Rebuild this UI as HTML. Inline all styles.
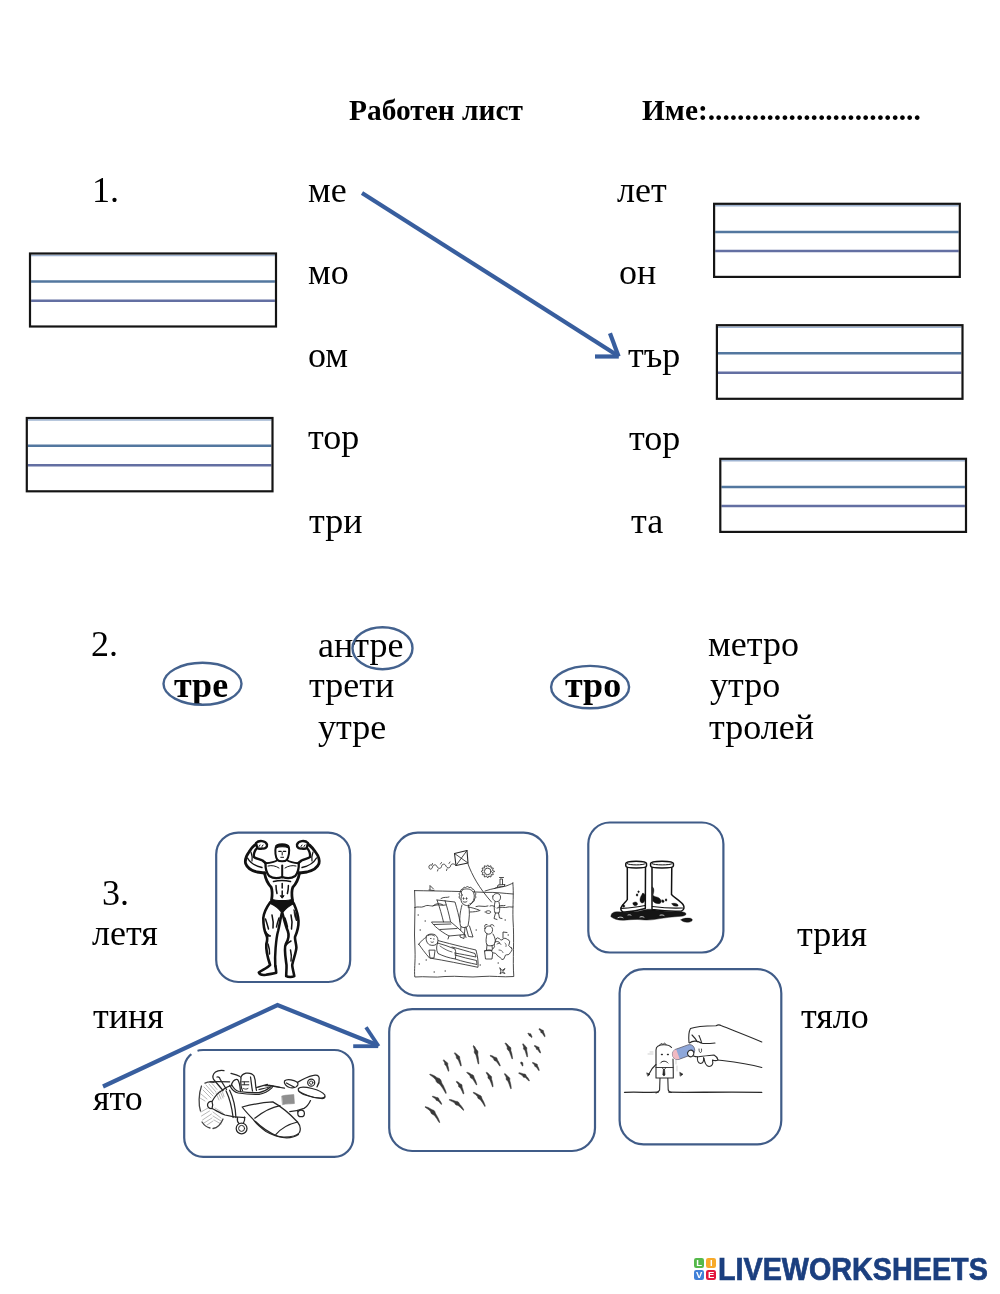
<!DOCTYPE html>
<html><head><meta charset="utf-8">
<style>
html,body{margin:0;padding:0;background:#fff;}
body{width:1000px;height:1294px;position:relative;overflow:hidden;font-family:"Liberation Serif",serif;color:#000;}
.t{position:absolute;font-size:36px;line-height:36px;white-space:pre;will-change:transform;}
.b{font-weight:bold;}
.h{position:absolute;font-size:29.4px;line-height:29.4px;font-weight:bold;white-space:pre;will-change:transform;}
svg{position:absolute;left:0;top:0;}
.lq{position:absolute;width:10.2px;height:10.2px;border-radius:2.2px;color:#fff;font-family:"Liberation Sans",sans-serif;font-weight:bold;font-size:9.5px;line-height:10.4px;text-align:center;}
</style></head>
<body>
<!-- header -->
<div class="h" style="left:349.2px;top:95.5px">Работен лист</div>
<div class="h" style="left:641.5px;top:95.5px">Име:.............................</div>

<!-- section 1 -->
<div class="t" style="left:92.3px;top:171.7px">1.</div>
<div class="t" style="left:307.8px;top:172px">ме</div>
<div class="t" style="left:307.8px;top:254.1px">мо</div>
<div class="t" style="left:308.3px;top:337px">ом</div>
<div class="t" style="left:308.4px;top:418.9px">тор</div>
<div class="t" style="left:308.6px;top:502.8px">три</div>
<div class="t" style="left:616.8px;top:171.7px">лет</div>
<div class="t" style="left:618.8px;top:253.6px">он</div>
<div class="t" style="left:627.5px;top:337.4px">тър</div>
<div class="t" style="left:628.6px;top:419.7px">тор</div>
<div class="t" style="left:630.6px;top:502.6px">та</div>


<!-- section 2 -->
<div class="t" style="left:91px;top:626.2px">2.</div>
<div class="t" style="left:318.2px;top:626.6px">антре</div>
<div class="t" style="left:309.1px;top:666.8px">трети</div>
<div class="t" style="left:318.2px;top:709px">утре</div>
<div class="t b" style="left:174.1px;top:666.5px">тре</div>
<div class="t b" style="left:565px;top:667px">тро</div>
<div class="t" style="left:708.2px;top:626.2px">метро</div>
<div class="t" style="left:710.1px;top:667.4px">утро</div>
<div class="t" style="left:708.7px;top:708.9px">тролей</div>

<!-- section 3 -->
<div class="t" style="left:101.9px;top:874.9px">3.</div>
<div class="t" style="left:92.2px;top:915.3px">летя</div>
<div class="t" style="left:92.7px;top:998.1px">тиня</div>
<div class="t" style="left:93px;top:1080.1px">ято</div>
<div class="t" style="left:797px;top:916px">трия</div>
<div class="t" style="left:801.2px;top:997.8px">тяло</div>

<svg width="1000" height="1294" viewBox="0 0 1000 1294">
  <g id="boxes">
    <line x1="31.1" y1="255.5" x2="274.9" y2="255.5" stroke="#9fb4d2" stroke-width="1.6"/>
    <line x1="31.1" y1="281.6" x2="274.9" y2="281.6" stroke="#53779f" stroke-width="2.5"/>
    <line x1="31.1" y1="300.8" x2="274.9" y2="300.8" stroke="#636fa2" stroke-width="2.5"/>
    <rect x="30" y="253.5" width="246.0" height="73.0" fill="none" stroke="#141414" stroke-width="2.2"/>
    <line x1="27.9" y1="420.0" x2="271.4" y2="420.0" stroke="#9fb4d2" stroke-width="1.6"/>
    <line x1="27.9" y1="445.7" x2="271.4" y2="445.7" stroke="#53779f" stroke-width="2.5"/>
    <line x1="27.9" y1="465.2" x2="271.4" y2="465.2" stroke="#636fa2" stroke-width="2.5"/>
    <rect x="26.8" y="418" width="245.7" height="73.3" fill="none" stroke="#141414" stroke-width="2.2"/>
    <line x1="715.2" y1="205.8" x2="958.7" y2="205.8" stroke="#9fb4d2" stroke-width="1.6"/>
    <line x1="715.2" y1="231.9" x2="958.7" y2="231.9" stroke="#53779f" stroke-width="2.5"/>
    <line x1="715.2" y1="251" x2="958.7" y2="251" stroke="#636fa2" stroke-width="2.5"/>
    <rect x="714.1" y="203.8" width="245.7" height="73.1" fill="none" stroke="#141414" stroke-width="2.2"/>
    <line x1="718.0" y1="327.2" x2="961.4" y2="327.2" stroke="#9fb4d2" stroke-width="1.6"/>
    <line x1="718.0" y1="353.2" x2="961.4" y2="353.2" stroke="#53779f" stroke-width="2.5"/>
    <line x1="718.0" y1="372.7" x2="961.4" y2="372.7" stroke="#636fa2" stroke-width="2.5"/>
    <rect x="716.9" y="325.2" width="245.6" height="73.6" fill="none" stroke="#141414" stroke-width="2.2"/>
    <line x1="721.4" y1="460.8" x2="964.9" y2="460.8" stroke="#9fb4d2" stroke-width="1.6"/>
    <line x1="721.4" y1="486.9" x2="964.9" y2="486.9" stroke="#53779f" stroke-width="2.5"/>
    <line x1="721.4" y1="506" x2="964.9" y2="506" stroke="#636fa2" stroke-width="2.5"/>
    <rect x="720.3" y="458.8" width="245.7" height="73.1" fill="none" stroke="#141414" stroke-width="2.2"/>
  </g>
  <g fill="none" stroke="#385e9e" stroke-width="4.2" stroke-linecap="butt" stroke-linejoin="miter">
    <line x1="362" y1="193" x2="616" y2="354.5"/>
    <line x1="610" y1="333.3" x2="618.6" y2="356.6"/>
    <line x1="595" y1="356.5" x2="618.8" y2="356.5"/>
    <polyline points="103,1086.5 277.5,1005 377,1045"/>
    <line x1="366" y1="1027.3" x2="378.6" y2="1046.3" stroke-width="3.8"/>
    <line x1="353.2" y1="1046.2" x2="378.2" y2="1046.2" stroke-width="3.8"/>
  </g>
  <g fill="none" stroke="#44628e" stroke-width="2.4">
    <ellipse cx="202.5" cy="683.8" rx="39" ry="21"/>
    <ellipse cx="382.5" cy="648.2" rx="30" ry="21"/>
    <ellipse cx="590.1" cy="687.1" rx="39" ry="21.2"/>
  </g>
  <g fill="none" stroke="#405c88" stroke-width="2.2">
    <rect x="216.2" y="832.6" width="134" height="149.4" rx="22"/>
    <rect x="394.2" y="832.6" width="152.9" height="163" rx="23.5"/>
    <rect x="588.3" y="822.5" width="135.1" height="130" rx="21.5"/>
    <rect x="389.2" y="1009.1" width="205.8" height="141.9" rx="23"/>
    <rect x="184.2" y="1050" width="169.1" height="106.8" rx="19"/>
    <rect x="619.6" y="969.2" width="161.7" height="175.1" rx="24"/>
  </g>
  <path d="M191.3,1054.2 A19,19 0 0 1 197.5,1050.8" fill="none" stroke="#fff" stroke-width="4.2"/>
<g id="muscle" fill="none" stroke="#111" stroke-width="2" stroke-linejoin="round" stroke-linecap="round">
  <!-- left arm -->
  <path d="M261.5,842 C257,842.5 252,847 249,852 C246,856 244.8,860 245.6,863.5 C247,867.5 251,870.5 257,872 L264.5,873" stroke-width="2.8"/>
  <path d="M257.5,847.5 C255,850 253.6,853 253.8,856.8 C256,858.8 259.5,859 262.5,860.5 L265.5,863" stroke-width="2.4"/>
  <path d="M256,843 C259,840 265.5,840.5 267,844.5 C267.5,847.5 265,849 262,848.5 C260,849 258,848.6 257.2,847.8 Z" fill="#fff" stroke-width="2.4"/>
  <path d="M259,846.5 l1,-1.5 M262,846.5 l1,-1.5" stroke-width="1"/>
  <path d="M247.5,858 C250,862.5 255,866 262,867.5" stroke-width="1.4"/>
  <path d="M251,852 C252,855 252.5,858 252,861" stroke-width="1.2"/>
  <!-- right arm -->
  <path d="M302.5,842 C307,842.5 312,847 315.5,852 C318.5,856 319.8,860 319,863.5 C317.5,867.5 313,870.5 307,872 L299.5,873" stroke-width="2.8"/>
  <path d="M306.5,847.5 C309,850 310.4,853 310.2,856.8 C308,858.8 304.5,859 301.5,860.5 L298.5,863" stroke-width="2.4"/>
  <path d="M308,843 C305,840 298.5,840.5 297,844.5 C296.5,847.5 299,849 302,848.5 C304,849 306,848.6 306.8,847.8 Z" fill="#fff" stroke-width="2.4"/>
  <path d="M301,846.5 l1,-1.5 M304,846.5 l1,-1.5" stroke-width="1"/>
  <path d="M316.5,858 C314,862.5 309,866 302,867.5" stroke-width="1.4"/>
  <path d="M313,852 C312,855 311.5,858 312,861" stroke-width="1.2"/>
  <!-- head -->
  <path d="M275.8,847 C276.3,843.3 287.8,843.3 288.8,847 C289.8,851 288.8,857 286.8,859.8 C285.2,861.8 279,861.8 277.4,859.8 C275.4,857 274.8,851 275.8,847 Z" fill="#fff" stroke-width="2"/>
  <path d="M275.8,848 C276.3,843.5 288,843.5 288.8,848 C286,846.3 278.5,846.3 275.8,848 Z" fill="#111" stroke-width="1.2"/>
  <path d="M278.8,851.3 h2.4 M283.3,851.3 h2.4" stroke-width="1.3"/>
  <path d="M282.2,852.5 v2.5 M280.8,857.3 h2.8" stroke-width="1"/>
  <!-- neck / traps -->
  <path d="M277.8,860 C274,862.6 270,863 265.5,863.2 M286.6,860 C290.5,862.6 294.5,863 298.5,863.2" stroke-width="2"/>
  <!-- chest -->
  <path d="M265.5,863 C265.3,868 266,872.5 269.2,876 C273,878.6 278,878.6 282.2,877 C286.5,878.6 291.5,878.6 295.2,876 C298.4,872.5 299,868 298.8,863" stroke-width="2.3"/>
  <path d="M282.2,865.5 L282.2,877.5" stroke-width="2"/>
  <path d="M268,866 C272,865 276,866 279,868 M296,866 C292,865 288,866 285,868" stroke-width="1"/>
  <!-- lats / waist -->
  <path d="M264.5,873 C265.5,878.5 267.5,883.5 271.2,887.2 C272.7,891 272.2,896 271.6,900" stroke-width="2.8"/>
  <path d="M299.5,873 C298.5,878.5 296.5,883.5 292.8,887.2 C291.3,891 291.8,896 292.4,900" stroke-width="2.8"/>
  <!-- abs -->
  <path d="M273.5,881.5 C278,880.5 286,880.5 290.5,881.5" stroke-width="1.6"/>
  <path d="M282.2,883.5 v4.5 M282.2,891 v4 M276,885.5 c0,3 0.5,6 1,8 M288.4,885.5 c0,3 -0.5,6 -1,8" stroke-width="1.5"/>
  <path d="M280.5,896 l1.7,2.2 l1.7,-2.2 Z" fill="#111" stroke-width="1"/>
  <!-- trunks -->
  <path d="M271.3,899.3 C276,901 288.4,901 292.8,899.3 L294,903.5 C289.5,905.5 285.5,908.5 282.2,913 C279,908.5 275,905.5 270.4,903.5 Z" fill="#111" stroke-width="1.2"/>
  <!-- left leg -->
  <path d="M270.4,902 C266.8,907 263.8,912 263.3,918 C263.3,924 263.8,930 266.3,935 C267.8,938 267.3,941 266.3,944 C265.8,950 267.8,958 270.1,965 C267.8,968 262,970 258.8,972.5 C259.8,974.8 263,975.3 266,974.8 C270,973.8 274,973.8 276.2,972.8 C276.2,970 275.7,968 275.4,966" stroke-width="2.6"/>
  <path d="M281.8,913 C280.6,918 279.6,925 278.1,931 C276.6,936 276.1,942 275.6,948 C275.1,954 274.9,960 275.3,966" stroke-width="2.5"/>
  <path d="M265.5,919 c1.2,3.5 2.2,7 3,10 M272,915 c1,4 1.5,9 1,13 M268,944 c1,3 2,6 1.5,10 M279,918 c-1,3 -2,6 -2.5,9" stroke-width="1.5"/>
  <path d="M265,930 C266.5,933 268.5,935 271,936 C269,937 267,936.5 265.5,934 Z" fill="#111" stroke-width="0.8"/>
  <!-- right leg -->
  <path d="M282.4,913 C283.8,918 285.3,925 287.8,931 C289.3,935 288.3,940 285.8,944 C283.8,948 285.3,956 286.5,965 C286.7,969 286.2,972 286.2,976.2 C288.2,977.3 292.2,977.3 294.3,976.2 C293.7,972 292.2,968 292.2,965 C293.7,958 296.2,952 296.4,947.5 C296.2,943 294.7,940 295,937 C297.2,932 298.7,927 298.5,921 C298.2,915 296.2,909 293.8,903.5" stroke-width="2.6"/>
  <path d="M291,915 c1,4 1.5,9 0.5,14 M286,945 c1.5,-2 3,-3 5,-4 M290.5,950 c1,4 1,8 0.5,11 M285,918 c1,3 2,6 2.5,9" stroke-width="1.5"/>
  <path d="M294,910 C296,913 297,917 296.5,921 C295,918 294,914 294,910 Z" fill="#111" stroke-width="0.8"/>
</g>

<g id="boots" stroke="#111" stroke-linejoin="round" stroke-linecap="round">
  <!-- puddle -->
  <path d="M611,915.5 C611.5,912.5 614.5,911.5 618,911.8 C624,912.3 632,912.5 640,911 C645,909.5 649,908.8 652,909.5 C660,911 670,911.8 678,911.8 C684,911.5 686.5,912.8 686,914.5 C685,915.8 682,916.5 678,916.5 C672,917 666,917.5 660,918.6 C654,919.8 648,920.5 642,919.8 C636,919 630,919.8 624,920.2 C618,920.6 613.5,918.8 611,916.8 Z" fill="#151515" stroke-width="0.4"/>
  <path d="M618,917.6 c2,-0.8 4,-0.6 5,0.2 M640,917 c1.5,-0.6 3,-0.4 4,0.3 M660,915.2 c1.5,-0.5 3,-0.3 4,0.3 M628,915 c1,-0.4 2,-0.3 3,0.2" stroke="#fff" stroke-width="0.8" fill="none"/>
  <path d="M681,919.8 C682.5,918.2 687,917.8 690.5,918.3 C693.2,919.2 692.8,921.2 689.5,922 C686,922.6 681.8,921.9 681,919.8 Z" fill="#151515" stroke-width="0.4"/>
  <!-- left boot -->
  <path d="M627.3,866.5 L627.3,899.5 C626,902 622,904.5 620.8,908 C620.6,910.5 622,912 625,912 C632,911.5 640,910 645.3,908.5 L645.5,866.5 Z" fill="#fff" stroke-width="1.5"/>
  <path d="M621.5,908.3 C628,908 638,907 645,905.5" fill="none" stroke-width="1.2"/>
  <path d="M625.8,863.6 C625.8,860.3 646.5,860.3 646.5,863.6 L646.5,866 C646.5,868.6 625.8,868.6 625.8,866 Z" fill="#fff" stroke-width="1.5"/>
  <path d="M627.2,863.7 C628.5,865.4 644,865.4 645.2,863.7" fill="none" stroke-width="1"/>
  <path d="M642.5,893.5 C644.5,892.5 645.5,895 645.3,899 C644.5,903 642,904 640.5,902 C639,899 641,896 642.5,893.5 Z M633,903 C635,901 638,902 637.5,904.5 C636,906.5 632.5,906 633,903 Z M622.5,905 C624,904 625.5,905.5 624.5,907 C623,907.5 622,906.5 622.5,905 Z M637,894 a1,1 0 1,0 0.1,0 Z M638.5,891 a0.8,0.8 0 1,0 0.1,0 Z" fill="#111" stroke-width="0.4"/>
  <!-- right boot -->
  <path d="M652,866.5 L652,909.5 C660,910.5 672,911.5 681.5,911 C684.5,910 684.5,906.5 683,904.5 C680,900.5 674,897.5 671.5,894.5 L671.8,866.5 Z" fill="#fff" stroke-width="1.5"/>
  <path d="M652.5,906.5 C660,907.5 672,908.5 682.5,908" fill="none" stroke-width="1.2"/>
  <path d="M650.6,863.6 C650.6,860.3 673.4,860.3 673.4,863.6 L673.4,866 C673.4,868.6 650.6,868.6 650.6,866 Z" fill="#fff" stroke-width="1.5"/>
  <path d="M652,863.7 C653.5,865.4 671,865.4 672.2,863.7" fill="none" stroke-width="1"/>
  <path d="M652.5,887 C654.5,888 654,892 653,895 C654,897 657,896.5 659,898 C661,899.5 662,902 660,903.5 C657,904 654,903 652.8,901 Z M662,900 C664,899.5 665,901.5 663.5,902.5 C662,903 661,901.5 662,900 Z M666,899 a1,1 0 1,0 0.1,0 Z M672,903.5 C675,902.5 679,904 678,906 C675,906.5 672,906 672,903.5 Z" fill="#111" stroke-width="0.4"/>
</g>

<g id="birds" fill="#383838" stroke="#383838" stroke-width="0.5" stroke-linejoin="round">
<path d="M538.8,1029.2 L539.2,1029.6 L539.5,1029.9 L539.9,1030.2 L540.2,1030.6 L540.5,1031.0 L540.7,1031.5 L540.7,1032.2 L541.0,1032.7 L541.6,1032.9 L542.2,1033.2 L542.6,1033.7 L542.9,1034.3 L543.3,1034.9 L543.7,1035.5 L544.1,1036.1 L544.5,1036.8 L545.1,1036.6 L545.0,1035.8 L544.8,1035.0 L544.6,1034.3 L544.3,1033.6 L544.0,1032.9 L543.7,1032.3 L543.6,1031.5 L543.5,1030.7 L543.1,1030.2 L542.3,1030.1 L541.7,1029.8 L541.2,1029.5 L540.7,1029.1 L540.2,1028.9 L539.7,1028.7 L539.2,1028.6Z"/>
<path d="M527.8,1033.8 L528.0,1034.0 L528.2,1034.2 L528.5,1034.4 L528.7,1034.6 L528.9,1034.8 L529.0,1035.2 L529.0,1035.6 L529.1,1035.9 L529.5,1035.9 L530.0,1035.9 L530.2,1036.2 L530.4,1036.4 L530.7,1036.7 L530.9,1037.0 L531.2,1037.2 L531.5,1037.6 L532.1,1037.2 L532.0,1036.8 L531.9,1036.4 L531.7,1036.0 L531.6,1035.6 L531.4,1035.3 L531.1,1034.9 L531.1,1034.4 L531.0,1033.9 L530.7,1033.7 L530.2,1033.7 L529.7,1033.7 L529.4,1033.5 L529.1,1033.4 L528.7,1033.3 L528.4,1033.2 L528.0,1033.2Z"/>
<path d="M505.0,1043.5 L505.4,1044.1 L505.8,1044.6 L506.2,1045.3 L506.6,1046.0 L507.0,1046.7 L507.2,1047.6 L507.1,1048.7 L507.5,1049.6 L508.3,1050.4 L509.1,1051.2 L509.6,1052.3 L510.0,1053.5 L510.5,1054.8 L511.0,1056.1 L511.4,1057.4 L512.0,1058.9 L512.6,1058.7 L512.5,1057.2 L512.2,1055.7 L512.0,1054.3 L511.7,1053.0 L511.3,1051.8 L510.9,1050.6 L510.9,1049.3 L510.9,1048.0 L510.3,1047.1 L509.3,1046.4 L508.6,1045.7 L508.0,1045.0 L507.4,1044.3 L506.8,1043.7 L506.1,1043.3 L505.4,1042.9Z"/>
<path d="M522.5,1044.1 L522.7,1044.6 L522.9,1045.1 L523.1,1045.6 L523.3,1046.2 L523.6,1046.8 L523.6,1047.5 L523.4,1048.4 L523.6,1049.2 L524.3,1049.8 L525.0,1050.6 L525.3,1051.5 L525.6,1052.5 L525.9,1053.5 L526.2,1054.6 L526.6,1055.8 L527.0,1057.0 L527.6,1056.8 L527.6,1055.6 L527.5,1054.4 L527.3,1053.2 L527.1,1052.1 L526.9,1051.0 L526.7,1050.1 L526.8,1049.0 L526.9,1048.0 L526.5,1047.2 L525.8,1046.6 L525.2,1046.0 L524.8,1045.4 L524.3,1044.8 L523.9,1044.4 L523.4,1044.0 L522.9,1043.7Z"/>
<path d="M534.3,1046.1 L534.6,1046.5 L535.0,1046.8 L535.3,1047.1 L535.7,1047.4 L536.0,1047.8 L536.2,1048.3 L536.2,1049.0 L536.5,1049.4 L537.1,1049.6 L537.7,1049.8 L538.1,1050.3 L538.4,1050.8 L538.8,1051.4 L539.2,1051.9 L539.6,1052.5 L540.0,1053.1 L540.6,1052.9 L540.5,1052.1 L540.3,1051.4 L540.0,1050.7 L539.8,1050.1 L539.5,1049.5 L539.1,1048.9 L539.1,1048.1 L539.0,1047.4 L538.5,1046.9 L537.7,1046.8 L537.1,1046.6 L536.6,1046.2 L536.1,1046.0 L535.6,1045.7 L535.1,1045.6 L534.5,1045.5Z"/>
<path d="M473.0,1046.0 L473.3,1046.6 L473.5,1047.3 L473.8,1048.0 L474.1,1048.8 L474.3,1049.6 L474.4,1050.7 L474.2,1051.8 L474.4,1052.9 L475.2,1053.9 L475.9,1055.0 L476.2,1056.3 L476.6,1057.7 L477.0,1059.2 L477.3,1060.7 L477.7,1062.3 L478.2,1064.0 L478.8,1064.0 L478.8,1062.2 L478.6,1060.5 L478.5,1058.9 L478.3,1057.4 L478.0,1055.9 L477.8,1054.6 L477.9,1053.2 L478.0,1051.8 L477.6,1050.7 L476.7,1049.8 L476.0,1049.0 L475.6,1048.1 L475.1,1047.3 L474.7,1046.6 L474.1,1046.0 L473.6,1045.6Z"/>
<path d="M454.3,1053.3 L454.7,1053.8 L455.0,1054.3 L455.4,1054.8 L455.8,1055.4 L456.1,1056.0 L456.3,1056.8 L456.3,1057.7 L456.6,1058.5 L457.3,1059.1 L458.1,1059.8 L458.5,1060.7 L458.9,1061.6 L459.3,1062.7 L459.8,1063.8 L460.2,1064.9 L460.7,1066.1 L461.3,1065.9 L461.2,1064.6 L461.0,1063.4 L460.7,1062.2 L460.4,1061.1 L460.1,1060.1 L459.8,1059.1 L459.7,1058.0 L459.7,1056.9 L459.2,1056.1 L458.3,1055.6 L457.6,1055.0 L457.1,1054.4 L456.5,1053.8 L455.9,1053.4 L455.3,1053.0 L454.7,1052.7Z"/>
<path d="M490.1,1055.9 L490.7,1056.4 L491.4,1056.8 L492.0,1057.3 L492.6,1057.8 L493.2,1058.3 L493.7,1059.0 L493.9,1059.9 L494.4,1060.5 L495.3,1060.9 L496.2,1061.3 L496.7,1062.0 L497.3,1062.7 L497.9,1063.5 L498.5,1064.4 L499.1,1065.2 L499.7,1066.1 L500.3,1065.9 L500.0,1064.8 L499.6,1063.8 L499.1,1062.8 L498.7,1061.9 L498.2,1061.0 L497.6,1060.2 L497.3,1059.2 L497.0,1058.2 L496.2,1057.5 L495.2,1057.2 L494.3,1056.9 L493.5,1056.4 L492.8,1056.0 L492.0,1055.7 L491.2,1055.4 L490.3,1055.3Z"/>
<path d="M443.2,1060.4 L443.5,1060.8 L443.7,1061.2 L444.0,1061.7 L444.3,1062.2 L444.6,1062.7 L444.7,1063.4 L444.6,1064.1 L444.9,1064.8 L445.5,1065.3 L446.1,1065.9 L446.5,1066.7 L446.8,1067.5 L447.1,1068.4 L447.5,1069.3 L447.9,1070.3 L448.3,1071.3 L448.9,1071.1 L448.8,1070.0 L448.7,1069.0 L448.5,1068.0 L448.3,1067.0 L448.0,1066.1 L447.8,1065.3 L447.8,1064.3 L447.8,1063.4 L447.4,1062.7 L446.6,1062.3 L446.0,1061.8 L445.6,1061.3 L445.1,1060.8 L444.6,1060.4 L444.1,1060.1 L443.6,1059.8Z"/>
<path d="M520.6,1062.4 L520.6,1062.6 L520.7,1062.7 L520.8,1062.9 L520.8,1063.1 L520.9,1063.2 L520.9,1063.5 L520.7,1063.8 L520.8,1064.0 L521.1,1064.1 L521.4,1064.3 L521.6,1064.5 L521.7,1064.8 L521.8,1065.1 L522.0,1065.4 L522.2,1065.7 L522.4,1066.1 L523.0,1065.9 L523.0,1065.5 L523.0,1065.1 L523.0,1064.8 L522.9,1064.4 L522.8,1064.1 L522.8,1063.8 L522.9,1063.4 L523.0,1063.0 L522.8,1062.7 L522.4,1062.6 L522.1,1062.5 L521.9,1062.3 L521.7,1062.1 L521.5,1062.0 L521.2,1061.9 L521.0,1061.8Z"/>
<path d="M532.4,1063.0 L532.8,1063.4 L533.2,1063.7 L533.6,1064.1 L533.9,1064.4 L534.3,1064.8 L534.5,1065.4 L534.6,1066.1 L534.9,1066.5 L535.6,1066.8 L536.2,1067.0 L536.6,1067.6 L537.0,1068.1 L537.4,1068.7 L537.8,1069.3 L538.2,1070.0 L538.7,1070.6 L539.3,1070.4 L539.1,1069.6 L538.9,1068.8 L538.6,1068.0 L538.3,1067.3 L538.0,1066.7 L537.6,1066.1 L537.5,1065.3 L537.4,1064.5 L536.9,1064.0 L536.1,1063.8 L535.4,1063.6 L534.9,1063.2 L534.3,1062.9 L533.8,1062.7 L533.2,1062.5 L532.6,1062.4Z"/>
<path d="M429.7,1074.7 L430.8,1075.5 L431.9,1076.3 L432.9,1077.1 L434.0,1078.0 L435.0,1078.9 L435.7,1080.1 L436.2,1081.6 L437.1,1082.7 L438.5,1083.5 L439.9,1084.4 L440.8,1085.7 L441.8,1087.1 L442.8,1088.6 L443.7,1090.1 L444.7,1091.7 L445.7,1093.4 L446.3,1093.2 L445.8,1091.3 L445.1,1089.4 L444.3,1087.7 L443.6,1086.1 L442.7,1084.5 L441.8,1083.1 L441.3,1081.3 L440.7,1079.7 L439.5,1078.5 L437.8,1077.9 L436.4,1077.2 L435.2,1076.3 L433.9,1075.6 L432.6,1074.9 L431.3,1074.4 L429.9,1074.1Z"/>
<path d="M466.7,1072.8 L467.3,1073.3 L467.9,1073.8 L468.6,1074.4 L469.2,1074.9 L469.7,1075.5 L470.1,1076.4 L470.3,1077.4 L470.8,1078.1 L471.7,1078.5 L472.7,1079.1 L473.3,1079.9 L473.8,1080.8 L474.4,1081.8 L475.0,1082.8 L475.6,1083.8 L476.3,1084.9 L476.9,1084.7 L476.6,1083.4 L476.2,1082.2 L475.8,1081.1 L475.3,1080.0 L474.8,1079.0 L474.3,1078.0 L474.0,1076.9 L473.7,1075.8 L473.0,1075.0 L471.9,1074.6 L471.0,1074.2 L470.2,1073.6 L469.4,1073.1 L468.6,1072.7 L467.8,1072.4 L466.9,1072.2Z"/>
<path d="M486.1,1072.8 L486.4,1073.3 L486.8,1073.9 L487.2,1074.4 L487.5,1075.1 L487.9,1075.7 L488.0,1076.6 L487.9,1077.6 L488.2,1078.4 L489.0,1079.1 L489.8,1079.9 L490.2,1080.9 L490.7,1082.0 L491.1,1083.1 L491.5,1084.3 L492.0,1085.6 L492.5,1086.9 L493.1,1086.7 L493.0,1085.3 L492.8,1084.0 L492.6,1082.7 L492.3,1081.5 L492.0,1080.3 L491.6,1079.2 L491.6,1078.0 L491.6,1076.9 L491.1,1076.0 L490.2,1075.4 L489.4,1074.8 L488.9,1074.1 L488.4,1073.5 L487.8,1073.0 L487.2,1072.5 L486.5,1072.2Z"/>
<path d="M504.3,1074.1 L504.6,1074.6 L505.0,1075.2 L505.4,1075.8 L505.7,1076.4 L506.1,1077.1 L506.2,1078.0 L506.1,1079.0 L506.4,1079.9 L507.2,1080.6 L508.0,1081.5 L508.4,1082.5 L508.9,1083.7 L509.3,1084.8 L509.7,1086.1 L510.2,1087.4 L510.7,1088.8 L511.3,1088.6 L511.2,1087.2 L511.0,1085.8 L510.8,1084.4 L510.5,1083.2 L510.2,1082.0 L509.8,1080.8 L509.8,1079.6 L509.9,1078.4 L509.3,1077.5 L508.4,1076.8 L507.7,1076.2 L507.1,1075.5 L506.6,1074.9 L506.0,1074.3 L505.4,1073.9 L504.7,1073.5Z"/>
<path d="M518.7,1073.4 L519.4,1073.8 L520.2,1074.2 L520.8,1074.6 L521.5,1075.0 L522.2,1075.4 L522.7,1076.0 L523.0,1076.8 L523.6,1077.3 L524.4,1077.4 L525.3,1077.6 L525.9,1078.1 L526.5,1078.7 L527.1,1079.2 L527.7,1079.8 L528.3,1080.5 L528.9,1081.1 L529.5,1080.7 L529.1,1079.9 L528.7,1079.1 L528.2,1078.3 L527.7,1077.6 L527.1,1076.9 L526.5,1076.3 L526.1,1075.4 L525.7,1074.5 L524.9,1074.0 L523.9,1074.0 L523.0,1073.8 L522.2,1073.5 L521.4,1073.2 L520.6,1073.0 L519.8,1072.8 L518.9,1072.8Z"/>
<path d="M456.2,1081.9 L456.6,1082.4 L457.1,1082.9 L457.5,1083.4 L457.9,1084.0 L458.3,1084.5 L458.5,1085.3 L458.5,1086.3 L458.8,1087.0 L459.6,1087.5 L460.4,1088.1 L460.9,1088.9 L461.3,1089.9 L461.8,1090.8 L462.3,1091.8 L462.7,1092.9 L463.3,1094.0 L463.9,1093.8 L463.8,1092.6 L463.5,1091.4 L463.2,1090.3 L462.9,1089.2 L462.6,1088.2 L462.2,1087.3 L462.1,1086.2 L462.0,1085.1 L461.5,1084.3 L460.5,1083.9 L459.7,1083.4 L459.2,1082.8 L458.5,1082.3 L457.9,1081.9 L457.3,1081.5 L456.6,1081.3Z"/>
<path d="M473.2,1092.9 L474.0,1093.5 L474.7,1094.0 L475.5,1094.6 L476.2,1095.3 L477.0,1095.9 L477.5,1096.8 L477.8,1097.9 L478.4,1098.7 L479.5,1099.3 L480.5,1099.9 L481.2,1100.9 L481.9,1101.9 L482.6,1102.9 L483.3,1104.0 L484.0,1105.2 L484.7,1106.4 L485.3,1106.2 L484.9,1104.8 L484.4,1103.5 L483.9,1102.2 L483.3,1101.0 L482.7,1099.9 L482.1,1098.8 L481.7,1097.6 L481.3,1096.3 L480.4,1095.5 L479.2,1095.0 L478.2,1094.5 L477.3,1093.9 L476.3,1093.4 L475.4,1092.9 L474.4,1092.5 L473.4,1092.3Z"/>
<path d="M432.3,1096.8 L432.9,1097.2 L433.5,1097.6 L434.1,1097.9 L434.7,1098.3 L435.3,1098.7 L435.7,1099.3 L436.0,1100.1 L436.4,1100.5 L437.2,1100.7 L438.0,1101.0 L438.5,1101.5 L439.0,1102.0 L439.6,1102.6 L440.1,1103.2 L440.6,1103.8 L441.2,1104.5 L441.8,1104.1 L441.5,1103.3 L441.1,1102.5 L440.7,1101.8 L440.2,1101.1 L439.7,1100.4 L439.2,1099.8 L438.9,1098.9 L438.5,1098.1 L437.9,1097.6 L437.0,1097.5 L436.1,1097.3 L435.5,1097.0 L434.7,1096.7 L434.0,1096.4 L433.3,1096.3 L432.5,1096.2Z"/>
<path d="M449.2,1100.1 L450.2,1100.6 L451.2,1101.1 L452.2,1101.6 L453.2,1102.1 L454.1,1102.6 L454.8,1103.4 L455.4,1104.4 L456.2,1105.1 L457.3,1105.3 L458.4,1105.7 L459.2,1106.4 L460.1,1107.1 L460.9,1107.9 L461.7,1108.7 L462.5,1109.5 L463.3,1110.4 L463.9,1110.0 L463.3,1108.9 L462.7,1107.9 L462.0,1106.9 L461.3,1105.9 L460.5,1105.0 L459.7,1104.2 L459.1,1103.1 L458.4,1102.0 L457.4,1101.4 L456.1,1101.3 L454.9,1101.0 L453.9,1100.5 L452.8,1100.2 L451.7,1099.8 L450.5,1099.6 L449.4,1099.5Z"/>
<path d="M425.1,1107.2 L426.1,1107.9 L427.0,1108.5 L428.0,1109.2 L428.9,1109.9 L429.8,1110.7 L430.5,1111.7 L431.0,1112.9 L431.7,1113.9 L432.9,1114.5 L434.1,1115.2 L435.0,1116.3 L435.8,1117.4 L436.7,1118.6 L437.5,1119.9 L438.3,1121.3 L439.2,1122.6 L439.8,1122.4 L439.3,1120.8 L438.7,1119.3 L438.0,1117.8 L437.3,1116.5 L436.6,1115.2 L435.8,1114.0 L435.2,1112.6 L434.7,1111.2 L433.7,1110.2 L432.2,1109.7 L431.0,1109.1 L429.9,1108.4 L428.8,1107.8 L427.7,1107.3 L426.5,1106.9 L425.3,1106.6Z"/>
</g>
<g id="plane" fill="none" stroke="#262626" stroke-width="1.25" stroke-linejoin="round" stroke-linecap="round">
  <!-- propeller disc -->
  <g stroke="#999" stroke-width="0.7">
    <path d="M206,1085 l8,9 M204,1087 l9,9 M203,1090 l8,8 M209,1084 l7,8 M212,1083.5 l5,6 M201,1094 l6,5 M200,1098 l5,3"/>
    <path d="M201,1112 l7,-4 M201.5,1116 l8,-5 M202.5,1120 l9,-6 M204,1123 l8,-5 M207,1125 l6,-4 M213,1112 l8,6 M213,1116 l8,5 M214,1120 l7,4 M215,1108 l8,5"/>
    <path d="M216,1093 l3,7 M218,1092 l3,7 M220,1091 l3,7 M222,1090.5 l2,6"/>
  </g>
  <path d="M200.5,1111 C198.5,1105 198.5,1094 201.5,1086 M205,1083.2 C208,1081.8 211,1081.6 214,1082.5 M202,1122 C204,1125 207,1127.5 210,1128 M213,1128.5 C217,1128 221,1124 223,1119" stroke="#444" stroke-width="1.3"/>
  <!-- loop strap at top-left -->
  <path d="M224,1070.6 C220,1069.8 215.5,1071 213.8,1073.8 C212.3,1076.5 213,1079 214.5,1080.5 L223,1090.5 M217,1077 C219,1076.5 220,1078 220,1079 L226.5,1089.5"/>
  <path d="M210,1081.8 C215,1081.5 222,1081.5 229.6,1081.8"/>
  <!-- fuselage -->
  <path d="M212,1101.5 C215,1096 219,1092 222,1090.5 C225,1088 227.5,1086.5 230,1086 M212,1108.5 C217,1111 221,1113.5 225,1115 C232,1117 240,1117.5 245,1117.5 M265,1085.6 C272,1086 278,1087 284.5,1088.2 M310.5,1100.6 C309,1104 306.5,1107 304,1108.4 C299,1110.5 294,1111.5 289.7,1111.6"/>
  <!-- nose cone -->
  <path d="M212,1101.5 C209.5,1101 207.5,1103 207.5,1105 C207.5,1107 209.5,1109 212,1108.5 C213,1106 213,1104 212,1101.5 Z" fill="#fff"/>
  <!-- cowl rings -->
  <path d="M226.1,1090.9 C229.5,1098 232,1108 233.1,1117.5 M229.6,1090.2 C233.5,1098 235.5,1108 235.9,1117.5"/>
  <!-- cockpit rim -->
  <path d="M229.6,1085.3 C232,1090 235,1092.5 238,1093 C246,1094.3 253,1094.6 259,1094.4 C264,1093.5 268.5,1091 271.6,1088.1 L273,1086 M231.5,1084.5 C234,1089 236.5,1091 239,1091.5 C246,1092.5 253,1092.8 259,1092.6 C263.5,1091.8 267.5,1089.5 270.5,1087"/>
  <!-- windshield -->
  <path d="M231,1086 C232.5,1081 235,1079 237.5,1079.5 C239,1081 240,1085 240.5,1091.5"/>
  <!-- pilot -->
  <path d="M240.8,1077.6 C241.5,1075 243,1074 246,1073.2 C249,1072.8 252.5,1073.6 254.1,1076.2 C255.3,1079 255.5,1082.5 255.6,1085 C255.8,1087.5 256.2,1089 256.5,1090.5" fill="#fff"/>
  <path d="M241,1078 C240.5,1082 240.8,1087 242.5,1090.5 M250.5,1077 C251.2,1081 251.5,1086 252.5,1091"/>
  <path d="M241.8,1081.8 L248.8,1081.8 M241.8,1084.8 L248.8,1084.8 M244.3,1082 l0,2.6" stroke-width="1"/>
  <path d="M243.5,1088.5 C245,1089.4 246.5,1089.4 248,1088.5" stroke-width="0.9"/>
  <path d="M231,1073.4 C234,1074.2 237,1075 240,1076.5"/>
  <!-- hair / scarf flowing -->
  <path d="M256.5,1087.5 C259,1087 263,1085.5 267.4,1084.4 C268.5,1085.5 269,1086 269.5,1085.3 M259,1089.5 C262,1089 265,1088 268,1087.5"/>
  <path d="M269.5,1085.3 C272.5,1085.5 276,1086.3 280,1087.4"/>
  <!-- left stabilizer -->
  <path d="M284.5,1081 C286,1079.4 290,1079.4 294,1080.6 C297,1081.6 298.5,1083 297.8,1085 C296.8,1087.5 293,1088.3 289.5,1087.5 C286.5,1086.5 283.6,1083.5 284.5,1081 Z" fill="#fff"/>
  <path d="M286.5,1083 C289,1084.5 292,1086 294.5,1087.3"/>
  <!-- tail fin -->
  <path d="M297.5,1082.4 C302,1079.5 308,1076.5 313.5,1075.3 C316.5,1074.5 318.8,1075.5 319.2,1078 C319.6,1081 318.5,1084.5 317,1086.9" fill="#fff"/>
  <circle cx="311.2" cy="1082.7" r="3.5"/>
  <circle cx="311.2" cy="1082.7" r="1.7" stroke-width="0.9"/>
  <!-- right stabilizer -->
  <path d="M298.4,1088.5 C300,1086.8 306,1087 312,1088.5 C318,1090 323,1092.5 324.8,1095 C325.6,1097 324,1098.2 321,1098.2 C316,1098 309,1096.5 303.5,1094.5 C300,1093 297.5,1090.5 298.4,1088.5 Z" fill="#fff"/>
  <path d="M299,1091.5 C304,1094.5 313,1097.5 321,1098.5 C323,1098.8 324.5,1098.3 325,1097"/>
  <!-- flag -->
  <path d="M282,1096 C286,1094.6 290,1095.2 293.8,1094.6 L294.4,1103.5 C290.5,1104 286,1103.6 282.8,1104.6 Z" fill="#8f8f8f" stroke="#888" stroke-width="0.6"/>
  <!-- big wing -->
  <path d="M242.2,1107 C250,1105 262,1102.5 272.8,1101.9 C282,1107 290,1114 297.5,1122 C300,1125 301,1129 299.5,1132.5 C297.5,1135.5 291,1137 284,1137 C278,1137 272,1135 266,1131.5 C260,1127 256,1123.5 253.4,1119.6 C249,1115 245,1111 242.2,1107 Z" fill="#fff"/>
  <path d="M254.8,1118.2 C262,1112.5 270,1107.5 280,1105.6 M276,1134.4 C281,1128.5 289,1124 297.5,1122 M255.5,1121.5 C262,1128 270,1133 278,1136.5 C285,1138.5 293,1138 298.5,1134.5"/>
  <!-- landing gear -->
  <path d="M237.5,1117.5 C237,1120 237.5,1122 239,1123.5 M244.5,1117 C245,1119.5 244.5,1121.5 243.5,1123"/>
  <circle cx="241.6" cy="1128.4" r="5.4" fill="#fff"/>
  <circle cx="241.6" cy="1128.4" r="3" stroke-width="1"/>
  <path d="M297.5,1110.5 C297.8,1112 298.3,1113 299,1113.5"/>
  <circle cx="301.1" cy="1113.4" r="3.3" fill="#fff"/>
</g>

<g id="beach" fill="none" stroke="#2a2a2a" stroke-width="0.85" stroke-linejoin="round" stroke-linecap="round">
  <!-- frame of scene (wavy) -->
  <path d="M414.6,890.5 C416,910 413.5,930 415,950 C415.5,962 414,970 414.8,977 C425,976 435,978 445,976.5 C458,975.5 470,978 482,976.5 C492,975.5 503,977.5 513.8,976.5 C512.5,960 514.5,940 513,920 C512.5,905 514,893 512.8,883"/>
  <!-- horizon -->
  <path d="M414.6,890.6 C440,891 465,891.5 486,892.4 C495,892 505,893.5 513,894"/>
  <path d="M485,891 C492,888.5 500,887.5 506,886 C509,885 511,884 513,883"/>
  <!-- sailboat on horizon -->
  <path d="M430,889.5 L430,885.5 L433.5,889 M429,890 L434,890.5"/>
  <!-- ship -->
  <path d="M494.5,888.5 C497,887 500,886.5 504,886.5 L505,884.5 L498,885 L497.5,887 M500,884.5 L500,879 L502.5,879 L502.5,884.5 M499.5,877.5 L503.5,877.5"/>
  <!-- shoreline -->
  <path d="M414.6,907.5 C418,906 421,908 424,906.5 C428,904 431,907 434,905.5 C438,904 442,906 446,905 M476,906.5 C480,905 484,907.5 488,906 M497,908 C501,906 505,908.5 508,907 C510,906.5 512,907.5 513,907"/>
  <path d="M441,898.5 C444,896.5 447,898 449,897 M433,906 C436,903 440,903 443,905"/>
  <!-- kite -->
  <path d="M454.5,853.5 L467,850.5 L468,863 L456,865.5 Z" fill="#fff" stroke-width="1.1"/>
  <path d="M454.5,853.5 L468,863 M467,850.5 L456,865.5"/>
  <path d="M456,865.5 C454,863 451,863.5 450.5,866 C450,868.5 447,868.5 446,866 C445,863.5 442,863.5 441.5,866.5 C441,869 438,869 437,866.5 C436,864 433,864.5 432.5,867 C432,869.5 429.5,870 429,867.5 C428.5,865.5 430,864.5 431.5,865"/>
  <path d="M449,863.5 l1,-1.5 M440.5,864 l1,-1.5 M432,865 l0.5,-1.5 M447,869 l-0.5,1.5 M438,869.5 l-0.5,1.5" stroke-width="0.8"/>
  <!-- kite string -->
  <path d="M468,864 C472,875 479,888 491.5,902"/>
  <!-- sun -->
  <circle cx="487.7" cy="871.4" r="3.3"/>
  <path d="M494.2,871.4 L493.3,872.1 L492.2,872.6 L492.9,873.5 L493.3,874.6 L492.1,874.8 L491.0,874.7 L491.1,875.8 L490.9,877.0 L489.8,876.6 L488.9,875.9 L488.4,877.0 L487.7,877.9 L487.0,877.0 L486.5,875.9 L485.6,876.6 L484.4,877.0 L484.3,875.8 L484.4,874.7 L483.3,874.8 L482.1,874.6 L482.5,873.5 L483.2,872.6 L482.1,872.1 L481.2,871.4 L482.1,870.7 L483.2,870.2 L482.5,869.3 L482.1,868.1 L483.3,868.0 L484.4,868.1 L484.3,867.0 L484.4,865.8 L485.6,866.2 L486.5,866.9 L487.0,865.8 L487.7,864.9 L488.4,865.8 L488.9,866.9 L489.8,866.2 L490.9,865.8 L491.1,867.0 L491.0,868.1 L492.1,868.0 L493.3,868.1 L492.9,869.3 L492.2,870.2 L493.3,870.7 L494.2,871.4Z"/>
  <!-- boy standing (kite flyer) -->
  <path d="M462,895 C460,892 462,889 465.5,889 C469,888.5 473,890 474,894 C475,898 473,903 470,905 C467,906.5 463,905 461.5,902 C460.5,899.5 461,897 462,895 Z" fill="#fff"/>
  <path d="M460.6,899.2 L460.1,898.7 L459.5,898.2 L459.2,897.5 L459.2,896.8 L459.5,896.0 L459.8,895.4 L459.4,894.7 L459.2,893.9 L459.3,893.2 L459.8,892.6 L460.4,892.2 L460.5,891.5 L460.6,890.7 L460.8,890.0 L461.3,889.5 L462.1,889.3 L462.8,889.2 L463.0,888.4 L463.5,887.7 L464.1,887.4 L464.8,887.3 L465.5,887.6 L466.1,887.3 L466.7,886.8 L467.4,886.6 L468.1,886.7 L468.7,887.1 L469.2,887.7 L470.0,887.4 L470.7,887.3 L471.4,887.6 L471.9,888.1 L472.2,888.9 L472.7,889.3 L473.4,889.4 L474.0,889.8 L474.4,890.4 L474.5,891.2 L474.4,892.0 L475.1,892.5 L475.6,893.0 L475.8,893.7 L475.7,894.4 L475.4,895.2 L475.3,895.8 L475.7,896.5 L475.8,897.3 L475.6,898.0 L475.1,898.5 L474.4,898.9 L474.5,899.8 L474.4,900.5 L474.1,901.2 L473.5,901.6 L472.7,901.7 L472.2,902.1 L471.9,902.9 L471.4,903.4 L470.7,903.7 L470.0,903.6" stroke-width="0.9"/>
  <path d="M463.5,898 a0.6,0.6 0 1,0 0.1,0 M466.5,898 a0.6,0.6 0 1,0 0.1,0 M463,901.5 C464,902.5 466,902.5 467,901.5"/>
  <path d="M462,905 C460,912 459,920 460.5,926 C462,928 466,928 468,926 C469.5,918 470,911 468.5,905"/>
  <path d="M468,907 C472,907.5 476,909 479,910 M470,912 C474,912 477,911.5 480,910.5"/>
  <path d="M461,926.5 L460,937 L464,938.5 L465,927.5 M466,927 L468.5,936.5 L473,937 L469.5,926"/>
  <!-- beach chair -->
  <path d="M437,900 C440,908 442,916 443.5,922 L431.5,922 C434,926 440,931 449,936 L465,934.5 C460,930 456,926 451,922 L443.5,922" fill="#fff"/>
  <path d="M437,900 L455,902 C457,909 459,916 460,922 M434,924.5 L451,924 M440,929.5 L457,928.5 M445,900.5 C447,907 449,914 450.5,921.5"/>
  <path d="M449,936 L448,939 M465,934.5 L466,937.5"/>
  <!-- woman lying on towel -->
  <path d="M418.8,944.2 C421,941 424,938.5 426,937.5 C440,941 458,946 476,950 C477.5,956 478.5,962 478,967.3 C462,964 445,960.5 429.5,958 C425,953 421.5,948 418.8,944.2 Z" fill="#fff"/>
  <path d="M426.5,936 C428,933.8 432,933.5 435,934.8 C437.8,936.5 438.5,940 437.5,943 C436,945.5 432.5,946 429.5,944.8 C426.5,943.2 425.5,939 426.5,936 Z" fill="#fff"/>
  <path d="M428,935.5 C430,934.2 433,934.5 434.5,936 M430.5,938.5 h0.6 M433.5,939 h0.6 M431,942 c0.8,0.5 1.6,0.5 2.4,0"/>
  <path d="M437.5,943 C443,944.5 449,946.5 455,949 C456,952 456,955 455.3,959 C449,958 443,956 438,953.5 C436,950 436.5,946 437.5,943 Z"/>
  <path d="M452,947 C460,949 468,951.5 475,953.5 L476,957 C468,955.5 461,954 454.5,953 M455,955 C462,957 469,959 476.5,960.5 L477,964.5 C470,963 462,961.5 455.3,959"/>
  <path d="M440,946 C444,949 448,951 452,952" stroke-width="0.7"/>
  <!-- small bucket left -->
  <path d="M429,950.5 L430,958 L434,958 L435,950.5 Z" fill="#fff"/>
  <!-- child with bucket -->
  <path d="M485,928.5 C486,926 489,925.5 491,926.5 C493,928 493,931 491.5,933 C490,934.5 487,934.5 486,933 C484.5,931.5 484.5,930 485,928.5 Z" fill="#fff"/>
  <path d="M485,927.5 C484,925.5 485,924 487,924.5 M490,925.5 C491.5,924 493.5,924.5 494,926"/>
  <path d="M487,934 C486,938 485.5,942 487,945 C489,946.5 493,946 495,944 C496,941 495,937 493,934"/>
  <path d="M487,945 L486.5,950 M492,945.5 L492.5,950"/>
  <path d="M484.5,951 L485.5,959 L492,959 L493,951 Z" fill="#fff"/>
  <path d="M485,951 C487,949.5 491,949.5 493,951"/>
  <!-- sandcastle -->
  <path d="M511.5,948.0 L512.1,949.8 L511.3,951.3 L510.3,952.6 L509.4,953.9 L508.1,954.7 L506.5,954.8 L505.4,955.2 L504.7,957.1 L503.6,959.2 L502.0,959.5 L500.5,958.1 L499.4,956.8 L498.2,956.2 L497.1,955.3 L496.4,954.1 L495.3,953.3 L493.3,952.8 L491.7,951.7 L492.1,949.7 L493.6,948.0 L494.5,946.7 L494.3,945.3 L494.4,943.7 L495.0,942.4 L495.5,940.9 L496.0,938.9 L497.3,937.8 L499.2,938.5 L500.8,939.9 L502.0,940.0 L503.3,938.8 L504.9,938.2 L506.3,938.7 L507.6,939.5 L509.0,940.3 L509.7,941.8 L509.2,944.0 L508.7,945.6 L509.7,946.7 L511.5,948.0Z" fill="#fff"/>
  <path d="M497,944 c1.5,-1 3,-1 4,0.5 M499,950 c2,0 3.5,1 4,2.5 M505,943 c1,1 1.5,2 1,3.5" stroke-width="0.7"/>
  <path d="M503,938 L503,932 L507,932.5 M495,942 C497,941 499,941.5 500,943"/>
  <!-- child background right -->
  <path d="M493,896 C494,893.5 497,893 499,894 C501,895.5 501,898.5 499.5,900.5 C498,902 495,902 494,900.5 C492.5,899 492.5,897.5 493,896 Z" fill="#fff"/>
  <path d="M495,902 C494,906 494,910 495,913 L499,913 C500,910 500,906 499,902 M495.5,913 L494,918.5 L497,919.5 M498.5,913 L499.5,918 L502,918.5"/>
  <path d="M490,906 C492,905 494,906 495,907 M499,906 C501,905 503,906 505,905.5"/>
  <path d="M485.5,912 C487,910 490,910.5 491,912 C490,914 487,914 485.5,912 Z"/>
  <!-- starfish -->
  <path d="M500,968 L502,970.5 L505,968.5 L503,971.5 L505,973.5 L502,972.5 L500,974 L500.8,971.5 Z"/>
  <!-- sand dots -->
  <path d="M418,915 h0.5 M425,921 h0.5 M420,930 h0.5 M426,960 h0.5 M434,972 h0.5 M445,971 h0.5 M505,920 h0.5 M508,935 h0.5 M498,963 h0.5 M480,965 h0.5 M476,930 h0.5 M419,964 h0.5" stroke-width="1"/>
</g>

<g id="eraser" fill="none" stroke="#2a2a2a" stroke-width="1.1" stroke-linejoin="round" stroke-linecap="round">
  <!-- ground -->
  <path d="M624.5,1092.3 C640,1092 650,1092.6 658,1092.2 M669,1092.2 C690,1092.6 720,1091.8 761.8,1092.3" stroke-width="1.3"/>
  <!-- legs -->
  <path d="M660,1078 L659.6,1090 C659,1091.5 657.5,1092.5 656,1093 M667.8,1078 L668.2,1090 C668.6,1091.5 670,1092.3 671.5,1092.5"/>
  <!-- body -->
  <path d="M673,1059 C673.2,1066 673.3,1072 673.3,1078 L656,1078 L656,1050 C656,1046.5 659,1044.8 664,1044.8 C667,1044.8 670,1045.5 671.5,1047.5" fill="#fff"/>
  <path d="M660,1044.5 C661,1043 662.5,1043.5 663,1044.5 C664,1042.5 665.5,1043 666,1044.5" stroke-width="0.9"/>
  <!-- face -->
  <path d="M661.5,1054.5 h0.8 M667.5,1054.5 h0.8" stroke-width="1.4"/>
  <path d="M660.5,1063 C662,1060.5 666,1060.5 668,1063" stroke-width="1"/>
  <!-- collar & tie -->
  <path d="M656,1067.5 L673,1067.5 M662,1067.5 L664,1070 L666,1067.5" stroke-width="0.9"/>
  <path d="M663.3,1070 L662.8,1075 L664,1076 L665,1075 L664.6,1070 Z" fill="#222" stroke-width="0.6"/>
  <!-- arms -->
  <path d="M656,1064.5 C653,1067 650.5,1070.5 649,1074"/>
  <path d="M647,1073 L650,1074.2 L648,1076 Z" fill="#222" stroke-width="0.6"/>
  <path d="M680,1072.5 L683,1074.2 L680.5,1076 Z" fill="#222" stroke-width="0.6"/>
  <!-- erased sparkle -->
  <path d="M676,1060 v4 M677,1066 v5 M648,1054 h5 M650,1052 h3" stroke="#bbb" stroke-width="0.7"/>
  <!-- eraser -->
  <g transform="rotate(-20 683 1052)">
    <rect x="672" y="1047" width="23" height="10.5" rx="5" fill="#8ea7da" stroke="#667" stroke-width="0.8"/>
    <path d="M677.5,1047.2 L677.5,1057.3 L677,1057.3 C674,1057.3 672,1055 672,1052.2 C672,1049.5 674,1047.2 677,1047.2 Z" fill="#f1b9c2" stroke="none"/>
  </g>
  <!-- hand -->
  <path d="M689,1042.5 C688.5,1037 689,1031 690.5,1028.5 C696,1026.5 706,1026 716,1025.8 C718,1024.5 719.5,1024.5 721,1025.5 C732,1030 748,1036 761.8,1042"/>
  <path d="M689.5,1043 C693,1040 698,1041 701,1043 C704,1044 710,1043.5 715,1043 M692,1035 C694,1037 696,1039 697.5,1042 M699,1035.5 C700,1038 701,1040 701.5,1042.5"/>
  <path d="M687.5,1053 C688.5,1050 691.5,1049.5 693,1051 C694.5,1052.5 694,1055.5 692,1056.5 C690,1057.5 687.5,1056 687.5,1053 Z" fill="#fff"/>
  <path d="M693.5,1056 C696,1057 698,1057 700,1056.5 C704,1056 709,1055.5 714,1055 C716,1056 717.5,1058 718,1060 C730,1061.5 745,1063 761.8,1067.5"/>
  <path d="M697.5,1057 C697,1060 698,1063 700.5,1063.5 C703,1063.5 704,1061 703.5,1057.5 M704,1058 C704.5,1062 706,1066 709,1066.5 C712,1066.5 713.5,1064 712.5,1060 C715,1061 717,1060.5 718,1060"/>
  <path d="M699,1049 C699,1051 699.5,1052.5 700.5,1052.5 C701.5,1052.5 701.8,1051 701.5,1049" stroke-width="0.8"/>
</g>

<!--IMAGES-->
</svg>

<!-- logo -->
<div class="lq" style="left:694px;top:1258.2px;background:#55b94a">L</div>
<div class="lq" style="left:706.2px;top:1258.2px;background:#f7aa2a">I</div>
<div class="lq" style="left:694px;top:1270.2px;background:#4080d8">V</div>
<div class="lq" style="left:706.2px;top:1270.2px;background:#e3173f">E</div>
<div style="position:absolute;left:718px;top:1254px;font-family:'Liberation Sans',sans-serif;font-weight:bold;font-size:31px;line-height:31px;color:#1b3f7f;white-space:pre;transform:scaleX(0.927);transform-origin:0 0;-webkit-text-stroke:0.7px #1b3f7f">LIVEWORKSHEETS</div>
</body></html>
